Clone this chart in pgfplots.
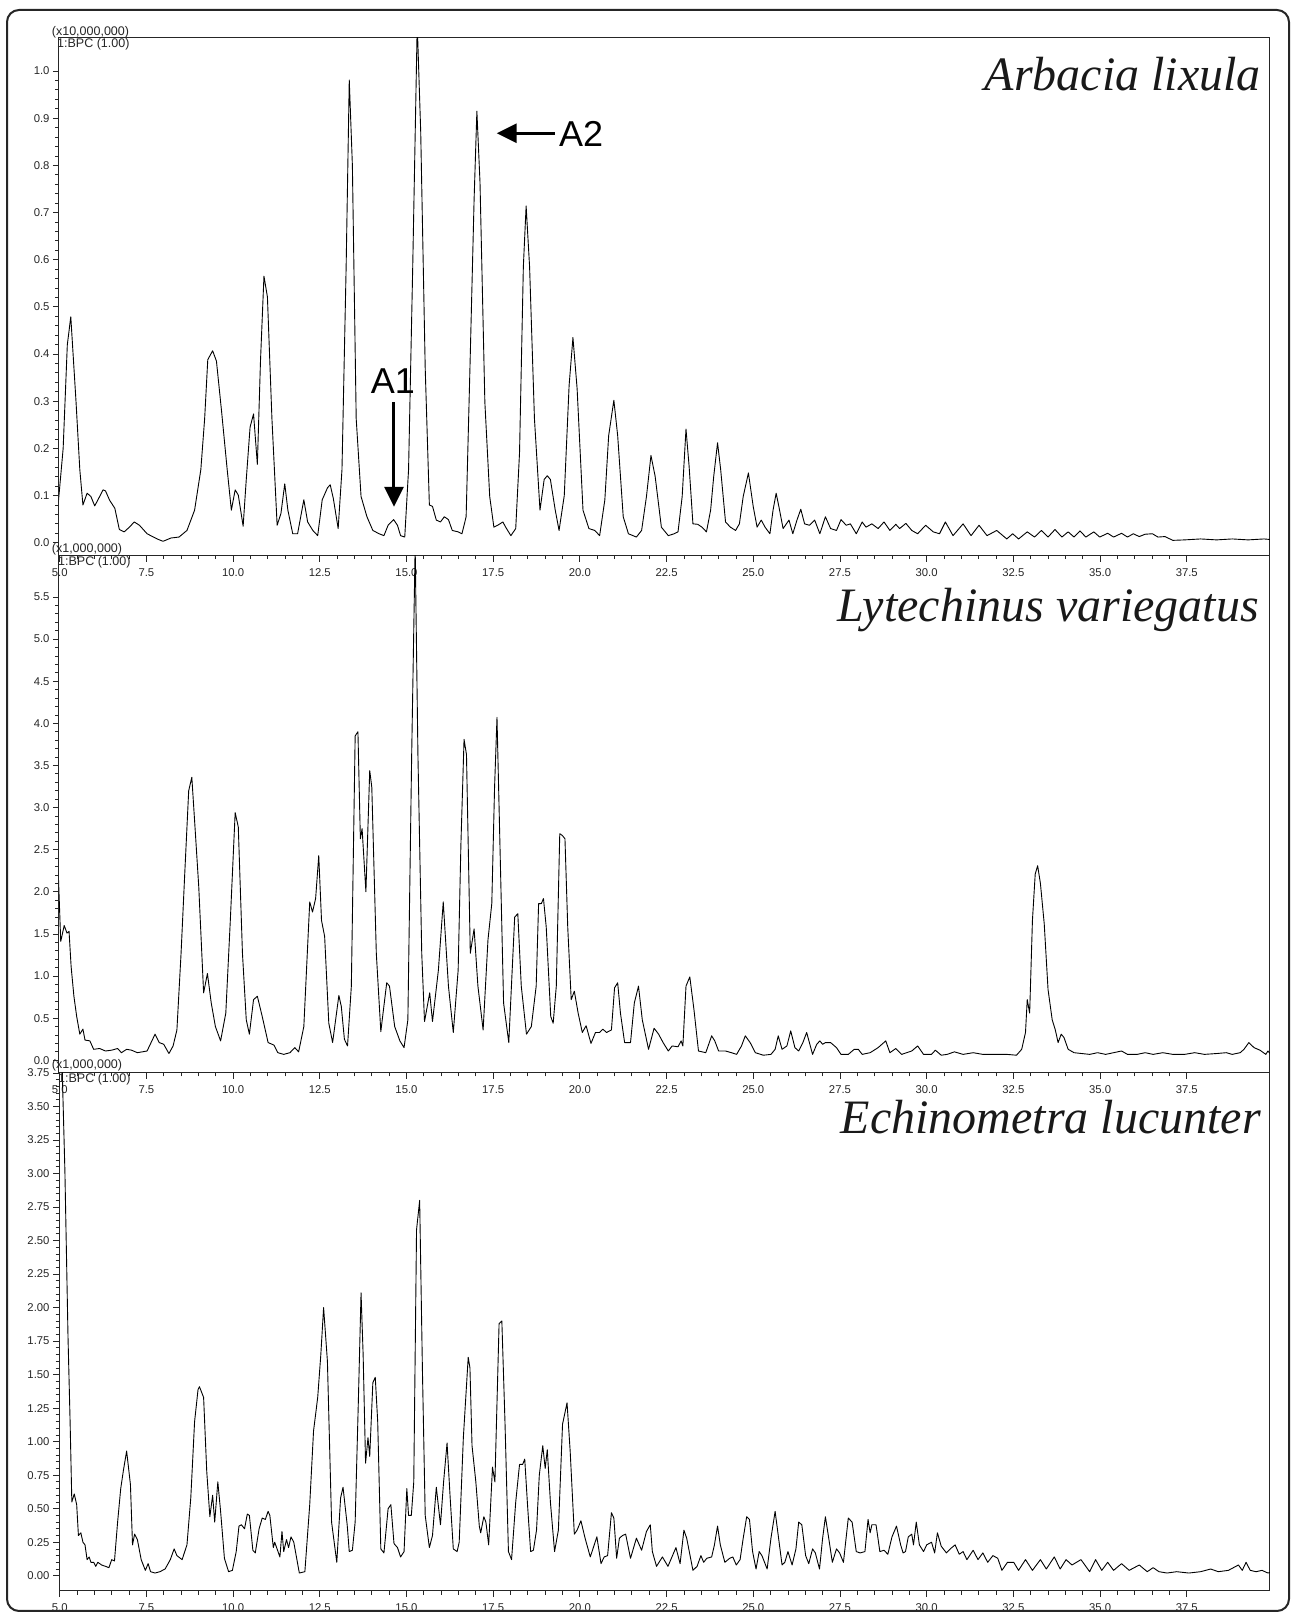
\documentclass[border=0pt]{standalone}
\usepackage{fontspec}
\setmainfont{Liberation Sans}
\newfontfamily\speciesfont{Liberation Serif}
\usepackage{pgfplots}
\pgfplotsset{compat=1.18}
\usetikzlibrary{arrows.meta}

% common look of the three chromatogram panels
\pgfplotsset{
  chrom/.style={
    scale only axis, width=1211pt, anchor=south west,
    xmin=4.98, xmax=39.9,
    xtick={5,7.5,...,37.5}, minor x tick num=4, minor y tick num=4,
    tick pos=left, tick align=outside,
    major tick length=6pt, minor tick length=3.5pt,
    axis line style={line width=1pt, black!85},
    every tick/.style={black!85, line width=0.8pt},
    tick label style={font=\fontsize{11.3}{13}\selectfont, text=black!85},
    /pgf/number format/assume math mode=true,
    xticklabel style={yshift=-3.5pt, /pgf/number format/.cd, fixed, fixed zerofill, precision=1},
    scaled y ticks=false,
  },
  trace/.style={black, line width=0.9pt, line join=round, mark=none},
}

\begin{document}
\begin{tikzpicture}
\useasboundingbox (0,0) rectangle (1292pt,1617pt);

% ---- Arbacia lixula ----
\begin{axis}[chrom, at={(59pt,1061.3pt)}, height=517.7pt,
    ymin=-0.0275, ymax=1.07,
    ytick={0,0.1,0.2,0.3,0.4,0.5,0.6,0.7,0.8,0.9,1.0},
    yticklabel style={/pgf/number format/.cd, fixed, fixed zerofill, precision=1}]
\addplot[trace] coordinates {
(4.93,0.06)(5.10,0.20)(5.22,0.42)(5.32,0.479)(5.47,0.30)(5.58,0.155)(5.67,0.08)(5.79,0.105)
(5.90,0.098)(6.01,0.078)(6.11,0.092)(6.25,0.112)(6.32,0.11)(6.44,0.09)(6.59,0.073)(6.72,0.028)
(6.86,0.023)(7.01,0.033)(7.15,0.044)(7.30,0.037)(7.52,0.019)(7.81,0.008)(7.98,0.003)(8.21,0.01)
(8.44,0.012)(8.67,0.026)(8.89,0.069)(9.07,0.155)(9.18,0.263)(9.27,0.388)(9.41,0.407)(9.52,0.385)
(9.67,0.277)(9.83,0.155)(9.95,0.069)(10.06,0.112)(10.15,0.101)(10.29,0.035)(10.38,0.134)(10.49,0.245)
(10.59,0.273)(10.70,0.166)(10.79,0.385)(10.89,0.565)(10.99,0.521)(11.12,0.263)(11.27,0.037)(11.38,0.062)
(11.49,0.125)(11.58,0.069)(11.72,0.019)(11.86,0.019)(12.04,0.091)(12.15,0.044)(12.30,0.026)(12.44,0.015)
(12.57,0.091)(12.72,0.116)(12.80,0.123)(12.89,0.094)(13.03,0.03)(13.14,0.155)(13.26,0.585)(13.35,0.981)
(13.44,0.80)(13.55,0.263)(13.69,0.098)(13.86,0.055)(14.03,0.026)(14.21,0.019)(14.35,0.015)(14.47,0.037)
(14.63,0.049)(14.74,0.037)(14.83,0.015)(14.95,0.012)(15.06,0.155)(15.18,0.585)(15.31,1.10)(15.41,0.872)
(15.54,0.37)(15.66,0.08)(15.75,0.077)(15.86,0.048)(15.98,0.044)(16.09,0.055)(16.21,0.049)(16.32,0.026)
(16.49,0.023)(16.60,0.019)(16.72,0.055)(16.83,0.37)(16.95,0.728)(17.03,0.915)(17.12,0.764)(17.26,0.298)
(17.40,0.098)(17.52,0.033)(17.63,0.037)(17.78,0.044)(17.86,0.033)(18.01,0.015)(18.15,0.03)(18.26,0.191)
(18.37,0.585)(18.45,0.714)(18.55,0.585)(18.69,0.263)(18.85,0.069)(18.97,0.134)(19.06,0.142)(19.15,0.134)
(19.29,0.069)(19.40,0.026)(19.55,0.10)(19.69,0.334)(19.80,0.435)(19.92,0.327)(20.09,0.069)(20.26,0.03)
(20.43,0.026)(20.57,0.015)(20.72,0.091)(20.83,0.227)(20.98,0.302)(21.09,0.227)(21.25,0.055)(21.40,0.019)
(21.63,0.012)(21.78,0.026)(21.92,0.098)(22.05,0.185)(22.17,0.141)(22.35,0.033)(22.55,0.015)(22.72,0.019)
(22.83,0.023)(22.95,0.098)(23.06,0.241)(23.15,0.162)(23.26,0.04)(23.40,0.039)(23.52,0.033)(23.65,0.023)
(23.77,0.069)(23.86,0.141)(23.97,0.212)(24.06,0.155)(24.20,0.044)(24.34,0.033)(24.49,0.026)(24.60,0.04)
(24.71,0.098)(24.86,0.148)(25.00,0.076)(25.11,0.033)(25.23,0.048)(25.34,0.033)(25.48,0.019)(25.57,0.069)
(25.66,0.105)(25.74,0.076)(25.86,0.03)(26.03,0.048)(26.14,0.019)(26.26,0.048)(26.37,0.071)(26.48,0.04)
(26.62,0.037)(26.77,0.048)(26.92,0.019)(27.08,0.055)(27.23,0.03)(27.40,0.026)(27.53,0.049)(27.68,0.037)
(27.80,0.04)(27.97,0.019)(28.14,0.044)(28.25,0.033)(28.42,0.04)(28.60,0.03)(28.77,0.044)(28.94,0.026)
(29.11,0.039)(29.22,0.03)(29.40,0.041)(29.57,0.026)(29.74,0.019)(29.97,0.037)(30.19,0.023)(30.37,0.019)
(30.54,0.044)(30.76,0.015)(31.05,0.04)(31.28,0.015)(31.51,0.037)(31.74,0.015)(32.02,0.026)(32.31,0.008)
(32.48,0.019)(32.65,0.008)(32.90,0.023)(33.11,0.012)(33.31,0.026)(33.50,0.012)(33.70,0.028)(33.90,0.012)
(34.08,0.023)(34.25,0.012)(34.42,0.025)(34.59,0.012)(34.82,0.023)(34.99,0.012)(35.22,0.02)(35.39,0.012)
(35.62,0.02)(35.79,0.012)(35.96,0.019)(36.13,0.013)(36.30,0.018)(36.51,0.019)(36.67,0.012)(36.87,0.013)
(37.10,0.005)(37.44,0.006)(37.90,0.008)(38.36,0.006)(38.81,0.008)(39.27,0.006)(39.73,0.008)(40.01,0.006)
};
% peak markers
\draw[line width=3pt, -{Triangle[length=20pt,width=19pt]}] (axis cs:14.64,0.298) -- (axis cs:14.64,0.076);
\draw[line width=3pt, -{Triangle[length=20pt,width=19pt]}] (axis cs:19.28,0.868) -- (axis cs:17.6,0.868);
\end{axis}

% ---- Lytechinus variegatus ----
\begin{axis}[chrom, at={(59pt,544pt)}, height=517.3pt,
    ymin=-0.151, ymax=5.99,
    ytick={0,0.5,1,1.5,2,2.5,3,3.5,4,4.5,5,5.5},
    yticklabel style={/pgf/number format/.cd, fixed, fixed zerofill, precision=1}]
\addplot[trace] coordinates {
(4.95,2.33)(5.03,1.41)(5.13,1.60)(5.21,1.51)(5.27,1.53)(5.33,1.11)(5.41,0.76)(5.49,0.52)
(5.58,0.31)(5.67,0.37)(5.73,0.24)(5.87,0.23)(5.98,0.13)(6.15,0.14)(6.32,0.11)(6.50,0.12)
(6.67,0.14)(6.78,0.09)(6.93,0.13)(7.07,0.12)(7.24,0.09)(7.52,0.11)(7.75,0.31)(7.87,0.21)
(8.00,0.19)(8.15,0.08)(8.27,0.17)(8.38,0.36)(8.50,1.27)(8.61,2.25)(8.72,3.20)(8.81,3.36)
(8.92,2.65)(9.01,2.06)(9.15,0.80)(9.26,1.03)(9.37,0.68)(9.49,0.40)(9.64,0.23)(9.79,0.56)
(9.92,1.66)(10.06,2.94)(10.15,2.77)(10.27,1.27)(10.38,0.48)(10.47,0.31)(10.59,0.72)(10.70,0.76)
(10.84,0.52)(11.01,0.21)(11.18,0.18)(11.29,0.09)(11.46,0.07)(11.64,0.09)(11.78,0.15)(11.89,0.10)
(12.04,0.40)(12.21,1.88)(12.29,1.76)(12.38,1.92)(12.47,2.43)(12.55,1.66)(12.64,1.47)(12.76,0.44)
(12.87,0.21)(13.05,0.77)(13.12,0.64)(13.21,0.25)(13.30,0.17)(13.41,0.88)(13.52,3.85)(13.60,3.90)
(13.67,2.63)(13.72,2.75)(13.83,2.00)(13.94,3.44)(14.00,3.24)(14.13,1.27)(14.26,0.34)(14.43,0.92)
(14.51,0.88)(14.66,0.40)(14.81,0.23)(14.93,0.15)(15.04,0.48)(15.15,3.63)(15.25,6.10)(15.33,3.63)
(15.44,1.27)(15.52,0.46)(15.67,0.80)(15.75,0.46)(15.92,1.07)(16.06,1.88)(16.21,0.88)(16.35,0.33)
(16.49,1.07)(16.57,2.57)(16.66,3.81)(16.73,3.63)(16.84,1.27)(16.95,1.56)(17.06,0.88)(17.21,0.36)
(17.35,1.43)(17.46,1.86)(17.54,3.24)(17.61,4.07)(17.69,2.65)(17.80,0.68)(17.95,0.21)(18.12,1.70)
(18.21,1.74)(18.31,0.88)(18.46,0.31)(18.60,0.40)(18.74,0.88)(18.81,1.86)(18.89,1.86)(18.95,1.92)
(19.03,1.58)(19.16,0.52)(19.23,0.44)(19.32,0.88)(19.42,2.69)(19.49,2.67)(19.57,2.63)(19.65,1.58)
(19.75,0.72)(19.84,0.82)(19.95,0.56)(20.07,0.33)(20.18,0.41)(20.32,0.20)(20.45,0.33)(20.57,0.33)
(20.66,0.37)(20.77,0.33)(20.91,0.36)(21.00,0.86)(21.09,0.92)(21.17,0.56)(21.29,0.21)(21.46,0.21)
(21.57,0.68)(21.69,0.88)(21.80,0.48)(21.98,0.13)(22.14,0.38)(22.27,0.31)(22.40,0.21)(22.55,0.11)
(22.66,0.17)(22.83,0.16)(22.92,0.23)(22.97,0.17)(23.06,0.88)(23.17,0.99)(23.29,0.60)(23.42,0.11)
(23.63,0.09)(23.80,0.29)(23.89,0.23)(24.00,0.11)(24.20,0.11)(24.37,0.09)(24.52,0.07)(24.66,0.17)
(24.77,0.29)(24.91,0.21)(25.06,0.09)(25.29,0.06)(25.51,0.07)(25.63,0.13)(25.72,0.29)(25.83,0.13)
(25.97,0.17)(26.08,0.35)(26.20,0.15)(26.31,0.11)(26.43,0.21)(26.54,0.33)(26.71,0.07)(26.83,0.19)
(26.92,0.23)(27.00,0.19)(27.08,0.21)(27.23,0.21)(27.40,0.15)(27.53,0.07)(27.74,0.07)(27.91,0.13)
(28.03,0.13)(28.14,0.07)(28.37,0.09)(28.60,0.15)(28.82,0.23)(28.94,0.09)(29.11,0.14)(29.28,0.07)
(29.57,0.11)(29.74,0.17)(29.91,0.07)(30.14,0.07)(30.25,0.12)(30.42,0.06)(30.59,0.07)(30.80,0.10)
(31.05,0.07)(31.34,0.09)(31.62,0.07)(31.96,0.07)(32.31,0.07)(32.59,0.06)(32.74,0.13)(32.85,0.33)
(32.90,0.72)(32.97,0.56)(33.05,1.66)(33.13,2.21)(33.20,2.31)(33.28,2.10)(33.39,1.62)(33.50,0.84)
(33.62,0.48)(33.71,0.36)(33.79,0.21)(33.88,0.31)(33.96,0.27)(34.08,0.13)(34.25,0.09)(34.47,0.08)
(34.70,0.07)(34.93,0.09)(35.16,0.07)(35.39,0.09)(35.62,0.11)(35.79,0.07)(36.07,0.07)(36.30,0.09)
(36.53,0.07)(36.81,0.09)(37.10,0.07)(37.44,0.07)(37.73,0.09)(38.01,0.07)(38.36,0.08)(38.64,0.09)
(38.81,0.07)(39.04,0.09)(39.15,0.13)(39.29,0.21)(39.44,0.15)(39.61,0.12)(39.78,0.07)(39.84,0.11)
(39.93,0.07)
};
\end{axis}

% ---- Echinometra lucunter ----
\begin{axis}[chrom, at={(59pt,26pt)}, height=518pt,
    ymin=-0.114, ymax=3.75,
    ytick={0,0.25,0.5,0.75,1,1.25,1.5,1.75,2,2.25,2.5,2.75,3,3.25,3.5,3.75},
    yticklabel style={/pgf/number format/.cd, fixed, fixed zerofill, precision=2}]
\addplot[trace] coordinates {
(5.03,3.90)(5.07,3.80)(5.15,3.02)(5.24,1.78)(5.30,1.15)(5.35,0.55)(5.42,0.61)(5.49,0.53)
(5.54,0.30)(5.61,0.32)(5.67,0.25)(5.73,0.23)(5.79,0.12)(5.85,0.14)(5.90,0.10)(5.98,0.10)
(6.04,0.07)(6.10,0.10)(6.21,0.08)(6.32,0.07)(6.42,0.06)(6.50,0.12)(6.58,0.11)(6.67,0.40)
(6.76,0.65)(6.84,0.79)(6.93,0.93)(7.04,0.68)(7.10,0.23)(7.16,0.31)(7.24,0.27)(7.35,0.12)
(7.47,0.04)(7.55,0.09)(7.62,0.03)(7.75,0.02)(7.89,0.03)(8.04,0.05)(8.19,0.12)(8.30,0.20)
(8.38,0.15)(8.53,0.12)(8.67,0.23)(8.78,0.58)(8.89,1.15)(8.99,1.39)(9.03,1.41)(9.15,1.33)
(9.24,0.78)(9.33,0.44)(9.41,0.60)(9.47,0.40)(9.56,0.70)(9.64,0.48)(9.75,0.13)(9.87,0.03)
(9.98,0.04)(10.09,0.18)(10.17,0.37)(10.24,0.38)(10.33,0.35)(10.41,0.46)(10.47,0.45)(10.57,0.19)
(10.64,0.17)(10.75,0.35)(10.84,0.43)(10.93,0.42)(11.01,0.48)(11.06,0.45)(11.16,0.21)(11.20,0.25)
(11.35,0.14)(11.41,0.33)(11.46,0.18)(11.54,0.27)(11.60,0.21)(11.67,0.29)(11.75,0.25)(11.91,0.02)
(12.07,0.03)(12.21,0.53)(12.32,1.08)(12.44,1.33)(12.53,1.65)(12.61,2.00)(12.72,1.60)(12.84,0.40)
(12.99,0.10)(13.10,0.58)(13.17,0.66)(13.29,0.38)(13.35,0.18)(13.44,0.19)(13.52,0.40)(13.61,1.28)
(13.69,2.11)(13.75,1.65)(13.82,0.84)(13.89,1.03)(13.94,0.89)(14.03,1.44)(14.10,1.48)(14.17,1.15)
(14.26,0.20)(14.35,0.17)(14.47,0.50)(14.55,0.53)(14.64,0.24)(14.74,0.21)(14.83,0.14)(14.93,0.18)
(15.01,0.65)(15.06,0.45)(15.14,0.45)(15.21,0.70)(15.29,2.58)(15.38,2.80)(15.46,1.53)(15.54,0.45)
(15.66,0.21)(15.75,0.30)(15.86,0.66)(15.98,0.38)(16.07,0.70)(16.17,0.99)(16.26,0.58)(16.35,0.20)
(16.46,0.18)(16.52,0.25)(16.64,1.03)(16.78,1.63)(16.83,1.55)(16.89,0.97)(17.00,0.70)(17.10,0.37)
(17.14,0.32)(17.23,0.44)(17.29,0.40)(17.37,0.23)(17.48,0.81)(17.55,0.70)(17.67,1.88)(17.75,1.90)
(17.84,1.15)(17.94,0.18)(18.03,0.12)(18.15,0.55)(18.26,0.83)(18.35,0.83)(18.41,0.87)(18.49,0.53)
(18.58,0.18)(18.66,0.19)(18.75,0.34)(18.83,0.75)(18.93,0.97)(19.00,0.80)(19.06,0.94)(19.15,0.55)
(19.27,0.18)(19.38,0.34)(19.50,1.13)(19.63,1.29)(19.72,0.93)(19.84,0.31)(19.92,0.34)(20.03,0.41)
(20.15,0.28)(20.30,0.14)(20.49,0.29)(20.61,0.09)(20.70,0.14)(20.80,0.15)(20.91,0.47)(20.98,0.43)
(21.06,0.13)(21.14,0.28)(21.23,0.30)(21.32,0.31)(21.46,0.13)(21.63,0.28)(21.78,0.19)(21.92,0.33)
(22.03,0.38)(22.09,0.18)(22.21,0.07)(22.38,0.14)(22.54,0.07)(22.77,0.21)(22.89,0.09)(23.00,0.34)
(23.08,0.28)(23.26,0.04)(23.38,0.07)(23.49,0.15)(23.57,0.10)(23.66,0.13)(23.80,0.14)(23.88,0.23)
(23.97,0.37)(24.05,0.23)(24.18,0.10)(24.32,0.13)(24.41,0.14)(24.51,0.08)(24.62,0.12)(24.71,0.28)
(24.81,0.44)(24.89,0.42)(24.98,0.18)(25.08,0.05)(25.17,0.18)(25.25,0.15)(25.40,0.05)(25.51,0.28)
(25.63,0.48)(25.72,0.30)(25.83,0.08)(25.91,0.10)(26.00,0.18)(26.12,0.08)(26.23,0.20)(26.31,0.40)
(26.40,0.38)(26.51,0.15)(26.60,0.09)(26.71,0.20)(26.79,0.17)(26.91,0.05)(27.00,0.28)(27.08,0.44)
(27.17,0.29)(27.28,0.10)(27.40,0.20)(27.49,0.17)(27.60,0.10)(27.74,0.43)(27.85,0.40)(27.97,0.18)
(28.08,0.17)(28.22,0.18)(28.31,0.42)(28.37,0.32)(28.42,0.38)(28.54,0.38)(28.65,0.18)(28.77,0.19)
(28.88,0.16)(29.00,0.29)(29.13,0.37)(29.25,0.23)(29.32,0.17)(29.39,0.18)(29.47,0.29)(29.57,0.31)
(29.62,0.23)(29.70,0.40)(29.79,0.23)(29.91,0.18)(30.00,0.23)(30.14,0.25)(30.23,0.17)(30.31,0.32)
(30.42,0.22)(30.57,0.17)(30.68,0.20)(30.82,0.23)(30.94,0.16)(31.05,0.18)(31.16,0.12)(31.34,0.19)
(31.48,0.12)(31.62,0.17)(31.76,0.10)(31.91,0.15)(32.05,0.13)(32.17,0.04)(32.33,0.10)(32.51,0.10)
(32.65,0.04)(32.85,0.12)(33.05,0.04)(33.28,0.12)(33.45,0.05)(33.68,0.14)(33.85,0.05)(34.02,0.12)
(34.19,0.08)(34.45,0.12)(34.70,0.03)(34.87,0.12)(35.05,0.04)(35.22,0.10)(35.39,0.04)(35.62,0.09)
(35.84,0.04)(36.13,0.08)(36.36,0.03)(36.53,0.06)(36.70,0.03)(36.93,0.02)(37.21,0.03)(37.56,0.02)
(37.90,0.03)(38.19,0.05)(38.41,0.03)(38.70,0.04)(38.99,0.08)(39.10,0.04)(39.21,0.10)(39.33,0.04)
(39.50,0.03)(39.67,0.04)(39.84,0.02)(40.00,0.03)
};
\end{axis}

% intensity scale and trace headers
\begin{scope}[every node/.style={inner sep=0pt, anchor=west, text=black!85, font=\fontsize{12.5}{14}\selectfont}]
\node at (51.7pt,1585pt) {(x10,000,000)};
\node at (57pt,1573pt) {1:BPC (1.00)};
\node at (51.7pt,1068pt) {(x1,000,000)};
\node at (58pt,1055pt) {1:BPC (1.00)};
\node at (51.7pt,552pt) {(x1,000,000)};
\node at (58pt,538pt) {1:BPC (1.00)};
\end{scope}

% species names
\begin{scope}[every node/.style={inner sep=0pt, anchor=base east, text=black!90, font=\speciesfont\itshape\fontsize{48}{50}\selectfont}]
\node at (1261pt,1526pt) {Arbacia lixula};
\node at (1259pt,995pt) {Lytechinus variegatus};
\node at (1261pt,483pt) {Echinometra lucunter};
\end{scope}

% peak labels
\node[inner sep=0pt, anchor=base, font=\fontsize{36}{38}\selectfont] at (393pt,1223.6pt) {A1};
\node[inner sep=0pt, anchor=base west, font=\fontsize{36}{38}\selectfont] at (559pt,1470.4pt) {A2};

% outer frame
\draw[line width=2pt, rounded corners=12pt, black!85] (7pt,6pt) rectangle (1289pt,1607pt);
\end{tikzpicture}
\end{document}
